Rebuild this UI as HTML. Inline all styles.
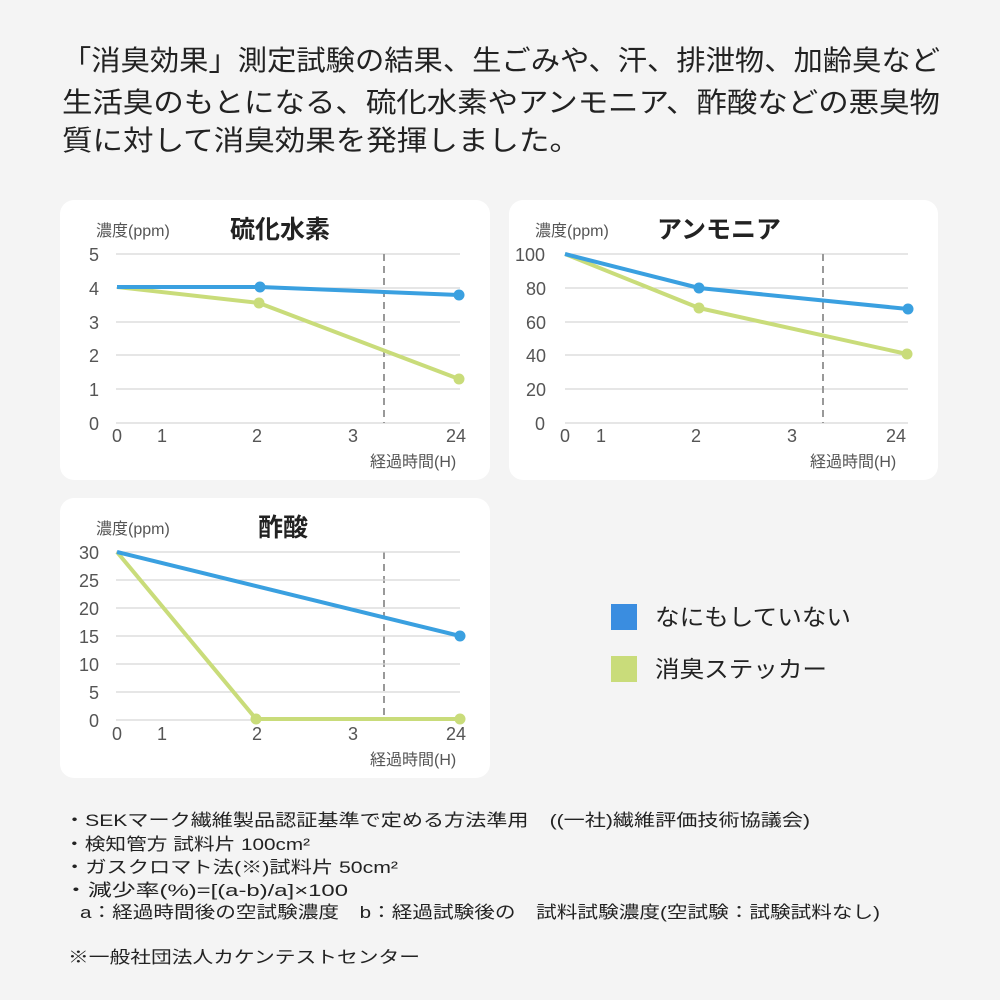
<!DOCTYPE html>
<html><head><meta charset="utf-8"><style>
html,body{margin:0;padding:0;background:#f4f4f4;}
svg{display:block;font-family:"Liberation Sans","Noto Sans CJK JP",sans-serif;}
</style></head><body>
<svg width="1000" height="1000" viewBox="0 0 1000 1000" xmlns="http://www.w3.org/2000/svg">
<rect width="1000" height="1000" fill="#f4f4f4"/>
<g fill="#222" font-size="28">
<text x="62" y="70" textLength="878" lengthAdjust="spacingAndGlyphs">「消臭効果」測定試験の結果、生ごみや、汗、排泄物、加齢臭など</text>
<text x="62" y="112" textLength="878" lengthAdjust="spacingAndGlyphs">生活臭のもとになる、硫化水素やアンモニア、酢酸などの悪臭物</text>
<text x="62" y="150" textLength="518" lengthAdjust="spacingAndGlyphs">質に対して消臭効果を発揮しました。</text>
</g>
<rect x="60" y="200" width="430" height="280" rx="14" fill="#fff"/>
<rect x="509" y="200" width="429" height="280" rx="14" fill="#fff"/>
<rect x="60" y="498" width="430" height="280" rx="14" fill="#fff"/>

<g stroke="#d8d8d8" stroke-width="1.2">
<line x1="116" x2="460" y1="254" y2="254"/><line x1="116" x2="460" y1="288" y2="288"/><line x1="116" x2="460" y1="322" y2="322"/><line x1="116" x2="460" y1="355" y2="355"/><line x1="116" x2="460" y1="389" y2="389"/><line x1="116" x2="460" y1="423" y2="423"/>
<line x1="565" x2="908" y1="254" y2="254"/><line x1="565" x2="908" y1="288" y2="288"/><line x1="565" x2="908" y1="322" y2="322"/><line x1="565" x2="908" y1="355" y2="355"/><line x1="565" x2="908" y1="389" y2="389"/><line x1="565" x2="908" y1="423" y2="423"/>
</g>
<g stroke="#999" stroke-width="2" stroke-dasharray="7,5">
<line x1="384" x2="384" y1="254" y2="423"/><line x1="823" x2="823" y1="254" y2="423"/><line x1="384" x2="384" y1="552" y2="720"/>
</g>
<g font-size="18" fill="#555">
<text x="96" y="236" font-size="16">濃度(ppm)</text>
<text x="230" y="238" font-size="25" font-weight="bold" fill="#222">硫化水素</text>
<g text-anchor="middle"><text x="94" y="261">5</text><text x="94" y="295">4</text><text x="94" y="329">3</text><text x="94" y="362">2</text><text x="94" y="396">1</text><text x="94" y="430">0</text>
<text x="117" y="442">0</text><text x="162" y="442">1</text><text x="257" y="442">2</text><text x="353" y="442">3</text><text x="456" y="442">24</text></g>
<text x="370" y="467" font-size="16">経過時間(H)</text>

<text x="535" y="236" font-size="16">濃度(ppm)</text>
<text x="657" y="238" font-size="25" font-weight="bold" fill="#222">アンモニア</text>
<g text-anchor="middle"><text x="530" y="261">100</text><text x="536" y="295">80</text><text x="536" y="329">60</text><text x="536" y="362">40</text><text x="536" y="396">20</text><text x="540" y="430">0</text>
<text x="565" y="442">0</text><text x="601" y="442">1</text><text x="696" y="442">2</text><text x="792" y="442">3</text><text x="896" y="442">24</text></g>
<text x="810" y="467" font-size="16">経過時間(H)</text>

<text x="96" y="534" font-size="16">濃度(ppm)</text>
<text x="258" y="536" font-size="25" font-weight="bold" fill="#222">酢酸</text>
<g text-anchor="middle"><text x="89" y="559">30</text><text x="89" y="587">25</text><text x="89" y="615">20</text><text x="89" y="643">15</text><text x="89" y="671">10</text><text x="94" y="699">5</text><text x="94" y="727">0</text>
<text x="117" y="740">0</text><text x="162" y="740">1</text><text x="257" y="740">2</text><text x="353" y="740">3</text><text x="456" y="740">24</text></g>
<text x="370" y="765" font-size="16">経過時間(H)</text>
</g>
<g stroke="#d8d8d8" stroke-width="1.2">
<line x1="116" x2="460" y1="552" y2="552"/><line x1="116" x2="460" y1="580" y2="580"/><line x1="116" x2="460" y1="608" y2="608"/><line x1="116" x2="460" y1="636" y2="636"/><line x1="116" x2="460" y1="664" y2="664"/><line x1="116" x2="460" y1="692" y2="692"/><line x1="116" x2="460" y1="720" y2="720"/>
</g>
<g fill="none" stroke-width="4" stroke-linejoin="round">
<polyline stroke="#c9dc7a" points="117,287 259,303 459,379"/>
<polyline stroke="#3aa0e0" points="117,287 260,287 459,295"/>
<polyline stroke="#c9dc7a" points="565,254 699,308 907,354"/>
<polyline stroke="#3aa0e0" points="565,254 699,288 908,309"/>
<polyline stroke="#c9dc7a" points="117,552 256,719 460,719"/>
<polyline stroke="#3aa0e0" points="117,552 460,636"/>
</g>
<g fill="#3aa0e0"><circle cx="260" cy="287" r="5.5"/><circle cx="459" cy="295" r="5.5"/><circle cx="699" cy="288" r="5.5"/><circle cx="908" cy="309" r="5.5"/><circle cx="460" cy="636" r="5.5"/></g>
<g fill="#c9dc7a"><circle cx="259" cy="303" r="5.5"/><circle cx="459" cy="379" r="5.5"/><circle cx="699" cy="308" r="5.5"/><circle cx="907" cy="354" r="5.5"/><circle cx="256" cy="719" r="5.5"/><circle cx="460" cy="719" r="5.5"/></g>
<rect x="611" y="604" width="26" height="26" fill="#3a8de0"/>
<rect x="611" y="656" width="26" height="26" fill="#c9dc7a"/>
<g font-size="23" fill="#222">
<text x="655" y="625" textLength="196" lengthAdjust="spacingAndGlyphs">なにもしていない</text>
<text x="655" y="677" textLength="172" lengthAdjust="spacingAndGlyphs">消臭ステッカー</text>
</g>
<g font-size="17" fill="#222">
<text x="64" y="826" textLength="746" lengthAdjust="spacingAndGlyphs">・SEKマーク繊維製品認証基準で定める方法準用　((一社)繊維評価技術協議会)</text>
<text x="64" y="850" textLength="246" lengthAdjust="spacingAndGlyphs">・検知管方 試料片 100cm²</text>
<text x="64" y="873" textLength="334" lengthAdjust="spacingAndGlyphs">・ガスクロマト法(※)試料片 50cm²</text>
<text x="64" y="896" textLength="284" lengthAdjust="spacingAndGlyphs">・減少率(%)=[(a-b)/a]×100</text>
<text x="80" y="918" textLength="800" lengthAdjust="spacingAndGlyphs">a：経過時間後の空試験濃度　b：経過試験後の　試料試験濃度(空試験：試験試料なし)</text>
<text x="68" y="963" textLength="352" lengthAdjust="spacingAndGlyphs">※一般社団法人カケンテストセンター</text>
</g>
</svg>
</body></html>
